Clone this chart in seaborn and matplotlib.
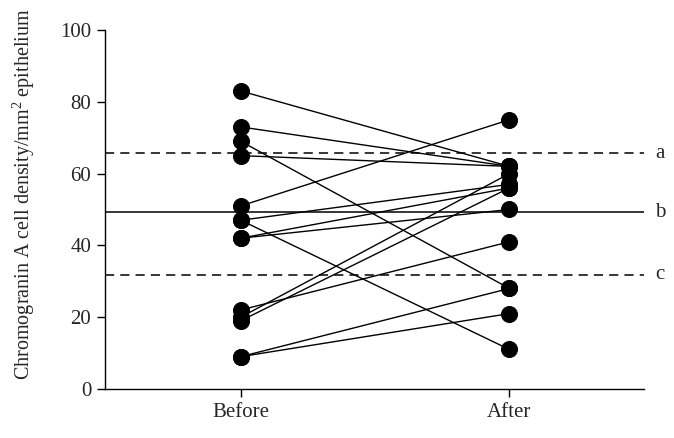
import pandas as pd
import matplotlib
matplotlib.use("Agg")
import matplotlib.pyplot as plt
import seaborn as sns

# values (one pair per subject)
before = [83, 73, 69, 65, 51, 47, 47, 42, 42, 22, 20, 19, 9, 9]
after = [62, 62, 28, 62, 75, 11, 57, 56, 50, 41, 60, 56, 28, 21]
groups = ["Before", "After"]
ref_values = [65.7, 49.2, 31.8]
ref_labels = ["a", "b", "c"]
ref_styles = ["--", "-", "--"]

rows = []
for i, (b, a) in enumerate(zip(before, after)):
    rows.append({"subject": i, "pos": 0, "value": b})
    rows.append({"subject": i, "pos": 1, "value": a})
df = pd.DataFrame(rows)

sns.set_theme(style="ticks")
plt.rcParams["font.family"] = ["Liberation Serif", "DejaVu Serif"]
plt.rcParams["mathtext.fontset"] = "custom"
plt.rcParams["mathtext.rm"] = "Liberation Serif"

fig = plt.figure(figsize=(6.74, 4.38), dpi=100)
ax = fig.add_axes([0.156, 0.112, 0.799, 0.8195])

sns.lineplot(data=df, x="pos", y="value", units="subject", estimator=None,
             color="black", lw=1.0, marker="o", markersize=11.5,
             markeredgecolor="black", ax=ax)

for v, lab, ls in zip(ref_values, ref_labels, ref_styles):
    if ls == "--":
        ax.axhline(v, color="black", lw=1.1, ls=ls, dashes=(6, 4), zorder=1)
    else:
        ax.axhline(v, color="black", lw=1.1, ls=ls, zorder=1)
    ax.text(1.03, v, lab, transform=ax.get_yaxis_transform(), va="center",
            ha="center", fontsize=15, clip_on=False)

ax.set_xlim(-0.505, 1.5)
ax.set_ylim(0, 100)
ax.set_xticks([0, 1])
ax.set_xticklabels(groups)
ax.set_yticks(range(0, 101, 20))
ax.set_xlabel("")
ax.set_ylabel("Chromogranin A cell density/mm$^2$ epithelium", fontsize=14.5)
ax.yaxis.set_label_coords(-0.126, 0.543)
ax.tick_params(labelsize=15, length=6, width=1, color="black", pad=4)
for s in ["top", "right"]:
    ax.spines[s].set_visible(False)
for s in ["left", "bottom"]:
    ax.spines[s].set_color("black")
    ax.spines[s].set_linewidth(1)

fig.savefig("out.png", dpi=100)
